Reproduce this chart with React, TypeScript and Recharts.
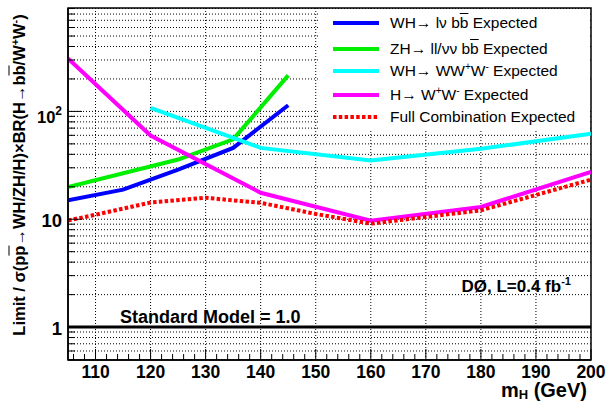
import React from 'react';
import { LineChart, Line, XAxis, YAxis, CartesianGrid, ReferenceLine, ReferenceArea } from 'recharts';

const massWHlv = [105, 115, 125, 135, 145];
const limitWHlv = [15.0, 18.8, 28.9, 45.9, 114];
const massZH = [105, 125, 135, 145];
const limitZH = [19.9, 35.8, 55, 216];
const massWHWWW = [120, 140, 160, 180, 200];
const limitWHWWW = [108, 45.9, 35, 45, 62];
const massHWW = [105, 120, 140, 160, 180, 200];
const limitHWW = [309, 59.8, 17.6, 9.7, 13.0, 27.5];
const massComb = [105, 110, 120, 130, 140, 150, 160, 180, 200];
const limitComb = [9.75, 11.0, 14.3, 15.8, 14.2, 11.2, 9.1, 12.1, 23.3];

const xMajor = [110, 120, 130, 140, 150, 160, 170, 180, 190, 200];
const xTicks = [106, 108, 110, 112, 114, 116, 118, 120, 122, 124, 126, 128, 130, 132, 134, 136, 138, 140,
  142, 144, 146, 148, 150, 152, 154, 156, 158, 160, 162, 164, 166, 168, 170, 172, 174, 176, 178, 180,
  182, 184, 186, 188, 190, 192, 194, 196, 198, 200];
const yMajor = [1, 10, 100];
const yTicks = [0.5, 0.6, 0.7, 0.8, 0.9, 1, 2, 3, 4, 5, 6, 7, 8, 9, 10, 20, 30, 40, 50, 60, 70, 80, 90,
  100, 200, 300, 400, 500, 600, 700, 800, 900];

const X_DOMAIN = [105, 200];
const Y_DOMAIN = [0.495, 910];
const FONT = 'Liberation Sans, Arial, Helvetica, sans-serif';

const toPoints = (ms: number[], vs: number[]) => ms.map((m, i) => ({ m, v: vs[i] }));

const series = [
  { key: 'whlv', color: '#0000ff', dash: undefined, pts: toPoints(massWHlv, limitWHlv) },
  { key: 'zh', color: '#00ee00', dash: undefined, pts: toPoints(massZH, limitZH) },
  { key: 'whwww', color: '#00ffff', dash: undefined, pts: toPoints(massWHWWW, limitWHWWW) },
  { key: 'hww', color: '#ff00ff', dash: undefined, pts: toPoints(massHWW, limitHWW) },
  { key: 'comb', color: '#ff0000', dash: '3.5 2.3', pts: toPoints(massComb, limitComb) },
];

const Bar = ({ children }: { children: React.ReactNode }) => (
  <span style={{ textDecoration: 'overline' }}>{children}</span>
);
const Sup = ({ children }: { children: React.ReactNode }) => (
  <span style={{ fontSize: '0.65em', position: 'relative', top: '-0.55em' }}>{children}</span>
);

const legendRows = [
  { color: '#0000ff', dash: undefined, y: 23, text: <>WH→ lν b<Bar>b</Bar> Expected</> },
  { color: '#00ee00', dash: undefined, y: 49, text: <>ZH→ ll/νν b<Bar>b</Bar> Expected</> },
  { color: '#00ffff', dash: undefined, y: 71, text: <>WH→ WW<Sup>+</Sup>W<Sup>-</Sup> Expected</> },
  { color: '#ff00ff', dash: undefined, y: 95, text: <>H→ W<Sup>+</Sup>W<Sup>-</Sup> Expected</> },
  { color: '#ff0000', dash: '3.5 2.3', y: 117, text: <>Full Combination Expected</> },
];

const YTick = (props: any) => {
  const { x, y, payload } = props;
  const v = payload.value;
  const major = yMajor.includes(v);
  return (
    <g>
      <line x1={x} x2={x + (major ? 14 : 7)} y1={y} y2={y} stroke="#000" />
      {major && v === 100 && (
        <text x={x - 6} y={y + 12} textAnchor="end" fontSize={16.5} fontWeight="bold" fontFamily={FONT} fill="#000">
          10<tspan dy={-8} fontSize={12}>2</tspan>
        </text>
      )}
      {major && v !== 100 && (
        <text x={x - 6} y={y + 8} textAnchor="end" fontSize={18.5} fontWeight="bold" fontFamily={FONT} fill="#000">
          {String(v)}
        </text>
      )}
    </g>
  );
};

const XTick = (props: any) => {
  const { x, y, payload } = props;
  const v = payload.value;
  const major = xMajor.includes(v);
  return (
    <g>
      <line x1={x} x2={x} y1={y} y2={y - (major ? 11 : 6)} stroke="#000" />
      {major && (
        <text x={x} y={y + 17.5} textAnchor="middle" fontSize={17.5} fontWeight="bold" fontFamily={FONT} fill="#000">
          {String(v)}
        </text>
      )}
    </g>
  );
};

export default function App() {
  return (
    <div style={{ position: 'absolute', left: 0, top: 0, width: 607, height: 402, background: '#fff', fontFamily: FONT }}>
      <LineChart width={607} height={402} margin={{ top: 8, right: 16, bottom: 0, left: 0 }}>
        <CartesianGrid
          stroke="#000"
          strokeDasharray="1 2"
          horizontalValues={yTicks}
          verticalValues={xMajor.slice(0, -1)}
        />
        <XAxis
          dataKey="m"
          type="number"
          domain={X_DOMAIN}
          allowDataOverflow
          ticks={xTicks}
          interval={0}
          tick={<XTick />}
          tickLine={false}
          tickSize={0}
          tickMargin={0}
          height={42}
          axisLine={{ stroke: '#000', strokeWidth: 1.5 }}
        />
        <YAxis
          type="number"
          scale="log"
          domain={Y_DOMAIN}
          allowDataOverflow
          ticks={yTicks}
          interval={0}
          tick={<YTick />}
          tickLine={false}
          tickSize={0}
          tickMargin={0}
          width={68}
          axisLine={{ stroke: '#000', strokeWidth: 1.5 }}
        />
        <ReferenceLine y={1} stroke="#000" strokeWidth={3} />
        {series.map((s) => (
          <Line
            key={s.key}
            data={s.pts}
            dataKey="v"
            type="linear"
            stroke={s.color}
            strokeWidth={4}
            strokeDasharray={s.dash}
            dot={false}
            activeDot={false}
            isAnimationActive={false}
          />
        ))}
        <ReferenceArea
          x1={X_DOMAIN[0]}
          x2={X_DOMAIN[1]}
          y1={Y_DOMAIN[0]}
          y2={Y_DOMAIN[1]}
          fill="none"
          stroke="#000"
          strokeWidth={1.5}
          ifOverflow="visible"
        />
      </LineChart>

      <div style={{ position: 'absolute', left: 320, top: 9, width: 269, height: 122, background: '#fff' }}>
        {legendRows.map((r, i) => (
          <div key={i} style={{ position: 'absolute', left: 0, top: r.y - 9 - 10, height: 20, display: 'flex', alignItems: 'center', whiteSpace: 'nowrap' }}>
            <svg width={60} height={20} style={{ flex: 'none' }}>
              <line x1={13} x2={59} y1={10} y2={10} stroke={r.color} strokeWidth={4} strokeDasharray={r.dash} />
            </svg>
            <span style={{ marginLeft: 10, fontSize: 15.5, color: '#000' }}>{r.text}</span>
          </div>
        ))}
      </div>

      <div style={{ position: 'absolute', left: 120, top: 307.5, fontSize: 18, lineHeight: '18px', fontWeight: 'bold', whiteSpace: 'nowrap' }}>
        Standard Model = 1.0
      </div>
      <div style={{ position: 'absolute', right: 607 - 571, top: 277.5, fontSize: 17, lineHeight: '17px', fontWeight: 'bold', whiteSpace: 'nowrap' }}>
        DØ, L=0.4 fb<Sup>-1</Sup>
      </div>
      <div style={{ position: 'absolute', right: 607 - 587, top: 380, fontSize: 20, lineHeight: '20px', fontWeight: 'bold', whiteSpace: 'nowrap' }}>
        m<span style={{ fontSize: '0.65em', position: 'relative', top: '0.18em' }}>H</span> (GeV)
      </div>
      <div
        style={{
          position: 'absolute',
          left: 20,
          top: 175,
          transform: 'translate(-50%, -50%) rotate(-90deg)',
          fontSize: 16.5,
          lineHeight: '17px',
          fontWeight: 'bold',
          whiteSpace: 'nowrap',
        }}
      >
        Limit / σ(p<Bar>p</Bar>→WH/ZH/H)×BR(H→b<Bar>b</Bar>/W<Sup>+</Sup>W<Sup>-</Sup>)
      </div>
    </div>
  );
}
